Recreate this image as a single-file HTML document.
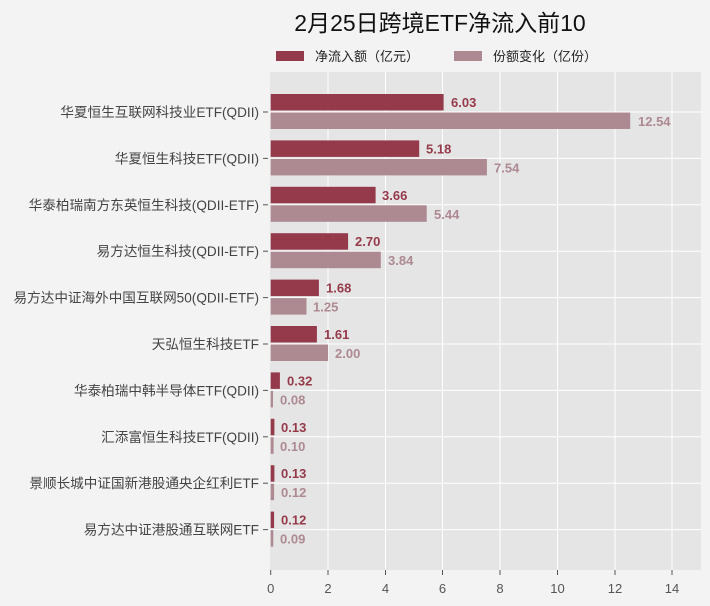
<!DOCTYPE html>
<html><head><meta charset="utf-8"><style>
html,body{margin:0;padding:0;background:#f3f3f3;}
svg{display:block;font-family:"Liberation Sans","Noto Sans CJK SC",sans-serif;}
</style></head><body>
<svg width="710" height="606" xmlns="http://www.w3.org/2000/svg">
<rect width="710" height="606" fill="#f3f3f3"/>
<text x="440" y="31" font-size="23" text-anchor="middle" fill="#111">2月25日跨境ETF净流入前10</text>
<rect x="276" y="51" width="28" height="10" fill="#953a4a"/>
<text x="315" y="61" font-size="13" fill="#222">净流入额（亿元）</text>
<rect x="454" y="51" width="28" height="10" fill="#ad8991"/>
<text x="493" y="61" font-size="13" fill="#222">份额变化（亿份）</text>
<rect x="270" y="72" width="431" height="498" fill="#e5e5e5"/>
<g stroke="#fff" stroke-width="1">
<line x1="328" y1="72" x2="328" y2="570"/><line x1="385.5" y1="72" x2="385.5" y2="570"/><line x1="442.5" y1="72" x2="442.5" y2="570"/><line x1="500" y1="72" x2="500" y2="570"/><line x1="557.5" y1="72" x2="557.5" y2="570"/><line x1="615" y1="72" x2="615" y2="570"/><line x1="672" y1="72" x2="672" y2="570"/>
<line x1="270" y1="112" x2="701" y2="112"/><line x1="270" y1="158.4" x2="701" y2="158.4"/><line x1="270" y1="204.8" x2="701" y2="204.8"/><line x1="270" y1="251.2" x2="701" y2="251.2"/><line x1="270" y1="297.6" x2="701" y2="297.6"/><line x1="270" y1="344" x2="701" y2="344"/><line x1="270" y1="390.4" x2="701" y2="390.4"/><line x1="270" y1="436.8" x2="701" y2="436.8"/><line x1="270" y1="483.2" x2="701" y2="483.2"/><line x1="270" y1="529.6" x2="701" y2="529.6"/>
</g>
<g font-size="13" fill="#555" text-anchor="middle">
<text x="270.7" y="593">0</text><text x="328" y="593">2</text><text x="385.5" y="593">4</text><text x="442.5" y="593">6</text><text x="500" y="593">8</text><text x="557.5" y="593">10</text><text x="615" y="593">12</text><text x="672" y="593">14</text>
</g>
<g stroke="#555"><line x1="270.7" y1="570" x2="270.7" y2="575"/><line x1="328" y1="570" x2="328" y2="575"/><line x1="385.5" y1="570" x2="385.5" y2="575"/><line x1="442.5" y1="570" x2="442.5" y2="575"/><line x1="500" y1="570" x2="500" y2="575"/><line x1="557.5" y1="570" x2="557.5" y2="575"/><line x1="615" y1="570" x2="615" y2="575"/><line x1="672" y1="570" x2="672" y2="575"/></g>
<g font-size="13.6" fill="#444" text-anchor="end">
<text x="259" y="117">华夏恒生互联网科技业ETF(QDII)</text>
<text x="259" y="163.4">华夏恒生科技ETF(QDII)</text>
<text x="259" y="209.8">华泰柏瑞南方东英恒生科技(QDII-ETF)</text>
<text x="259" y="256.2">易方达恒生科技(QDII-ETF)</text>
<text x="259" y="302.6">易方达中证海外中国互联网50(QDII-ETF)</text>
<text x="259" y="349">天弘恒生科技ETF</text>
<text x="259" y="395.4">华泰柏瑞中韩半导体ETF(QDII)</text>
<text x="259" y="441.8">汇添富恒生科技ETF(QDII)</text>
<text x="259" y="488.2">景顺长城中证国新港股通央企红利ETF</text>
<text x="259" y="534.6">易方达中证港股通互联网ETF</text>
</g>
<g stroke="#555">
<line x1="263" y1="112" x2="268" y2="112"/><line x1="263" y1="158.4" x2="268" y2="158.4"/><line x1="263" y1="204.8" x2="268" y2="204.8"/><line x1="263" y1="251.2" x2="268" y2="251.2"/><line x1="263" y1="297.6" x2="268" y2="297.6"/><line x1="263" y1="344" x2="268" y2="344"/><line x1="263" y1="390.4" x2="268" y2="390.4"/><line x1="263" y1="436.8" x2="268" y2="436.8"/><line x1="263" y1="483.2" x2="268" y2="483.2"/><line x1="263" y1="529.6" x2="268" y2="529.6"/>
</g>
<g font-size="13" font-weight="bold">
<rect x="270.7" y="94" width="172.9" height="16.5" fill="#953a4a"/><text x="451" y="107" fill="#953a4a">6.03</text>
<rect x="270.7" y="112.5" width="359.5" height="16.5" fill="#ad8991"/><text x="638" y="126" fill="#ad8991">12.54</text>
<rect x="270.7" y="140.4" width="148.5" height="16.5" fill="#953a4a"/><text x="426" y="153.4" fill="#953a4a">5.18</text>
<rect x="270.7" y="158.9" width="216.2" height="16.5" fill="#ad8991"/><text x="494" y="172.4" fill="#ad8991">7.54</text>
<rect x="270.7" y="186.8" width="104.9" height="16.5" fill="#953a4a"/><text x="382" y="199.8" fill="#953a4a">3.66</text>
<rect x="270.7" y="205.3" width="156" height="16.5" fill="#ad8991"/><text x="434" y="218.8" fill="#ad8991">5.44</text>
<rect x="270.7" y="233.2" width="77.4" height="16.5" fill="#953a4a"/><text x="355" y="246.2" fill="#953a4a">2.70</text>
<rect x="270.7" y="251.7" width="110.1" height="16.5" fill="#ad8991"/><text x="388" y="265.2" fill="#ad8991">3.84</text>
<rect x="270.7" y="279.6" width="48.2" height="16.5" fill="#953a4a"/><text x="326" y="292.6" fill="#953a4a">1.68</text>
<rect x="270.7" y="298.1" width="35.8" height="16.5" fill="#ad8991"/><text x="313" y="311.6" fill="#ad8991">1.25</text>
<rect x="270.7" y="326" width="46.2" height="16.5" fill="#953a4a"/><text x="324" y="339" fill="#953a4a">1.61</text>
<rect x="270.7" y="344.5" width="57.3" height="16.5" fill="#ad8991"/><text x="335" y="358" fill="#ad8991">2.00</text>
<rect x="270.7" y="372.4" width="9.2" height="16.5" fill="#953a4a"/><text x="287" y="385.4" fill="#953a4a">0.32</text>
<rect x="270.7" y="390.9" width="2.3" height="16.5" fill="#ad8991"/><text x="280" y="404.4" fill="#ad8991">0.08</text>
<rect x="270.7" y="418.8" width="3.7" height="16.5" fill="#953a4a"/><text x="281" y="431.8" fill="#953a4a">0.13</text>
<rect x="270.7" y="437.3" width="2.9" height="16.5" fill="#ad8991"/><text x="280" y="450.8" fill="#ad8991">0.10</text>
<rect x="270.7" y="465.2" width="3.7" height="16.5" fill="#953a4a"/><text x="281" y="478.2" fill="#953a4a">0.13</text>
<rect x="270.7" y="483.7" width="3.4" height="16.5" fill="#ad8991"/><text x="281" y="497.2" fill="#ad8991">0.12</text>
<rect x="270.7" y="511.6" width="3.4" height="16.5" fill="#953a4a"/><text x="281" y="524.6" fill="#953a4a">0.12</text>
<rect x="270.7" y="530.1" width="2.6" height="16.5" fill="#ad8991"/><text x="280" y="543.6" fill="#ad8991">0.09</text>
</g>
</svg>
</body></html>
